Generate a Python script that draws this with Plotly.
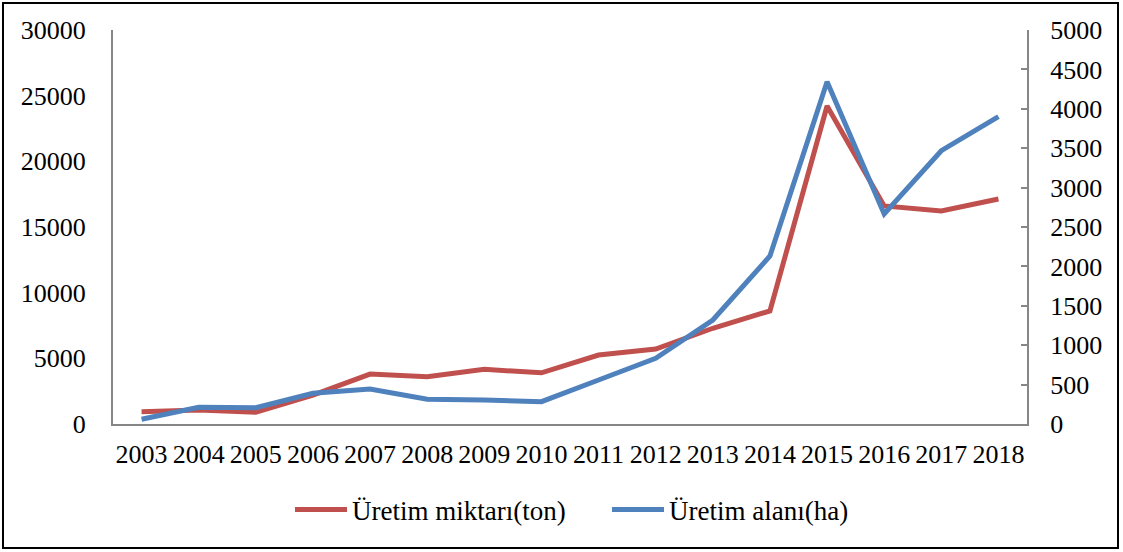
import plotly.graph_objects as go

years = ["2003", "2004", "2005", "2006", "2007", "2008", "2009", "2010",
         "2011", "2012", "2013", "2014", "2015", "2016", "2017", "2018"]
uretim_miktari = [940, 1070, 890, 2200, 3800, 3600, 4160, 3900,
                  5250, 5710, 7290, 8610, 24210, 16600, 16220, 17130]
uretim_alani = [60, 212, 207, 390, 444, 315, 305, 283,
                558, 834, 1320, 2132, 4344, 2665, 3468, 3900]

RED = "#C0504D"
BLUE = "#4F81BD"
AX = "#868686"
FONT = "'Liberation Serif', 'Times New Roman', serif"
FS = 26

fig = go.Figure()
fig.add_trace(go.Scatter(x=years, y=uretim_miktari, name="Üretim miktarı(ton)",
                         mode="lines", line=dict(color=RED, width=5), yaxis="y"))
fig.add_trace(go.Scatter(x=years, y=uretim_alani, name="Üretim alanı(ha)",
                         mode="lines", line=dict(color=BLUE, width=5), yaxis="y2"))

fig.update_layout(
    width=1123, height=552,
    margin=dict(l=113, r=96, t=30, b=128),
    paper_bgcolor="white", plot_bgcolor="white",
    font=dict(family=FONT, size=FS, color="black"),
    showlegend=True,
    legend=dict(orientation="h", x=(290 - 113) / 914, xanchor="left", y=-0.218,
                yanchor="middle", font=dict(family=FONT, size=27), itemwidth=52,
                entrywidth=250, entrywidthmode="pixels", tracegroupgap=0),
    xaxis=dict(type="category", range=[-0.5, 15.5], showline=True, linecolor=AX,
               linewidth=2, ticks="", showgrid=False, zeroline=False,
               ticklabelstandoff=6, tickfont=dict(family=FONT, size=FS)),
    yaxis=dict(range=[0, 30000], dtick=5000, tickformat="d", showline=True,
               linecolor=AX, linewidth=2, ticks="", showgrid=False, zeroline=False,
               ticklabelstandoff=20, tickfont=dict(family=FONT, size=FS)),
    yaxis2=dict(range=[0, 5000], dtick=500, tickformat="d", overlaying="y",
                side="right", showline=True, linecolor=AX, linewidth=2,
                ticks="inside", ticklen=6, tickcolor=AX, tickwidth=2, showgrid=False,
                zeroline=False, ticklabelstandoff=16,
                tickfont=dict(family=FONT, size=FS)),
    shapes=[dict(type="rect", xref="paper", yref="paper",
                 x0=(3 - 113) / 914, x1=(1118 - 113) / 914,
                 y0=(424 - 548) / 394, y1=(424 - 3) / 394,
                 line=dict(color="black", width=2), fillcolor="rgba(0,0,0,0)",
                 layer="below")],
)

fig.write_html("out.html", config={"displayModeBar": False},
               post_script="document.body.style.margin='0';")
